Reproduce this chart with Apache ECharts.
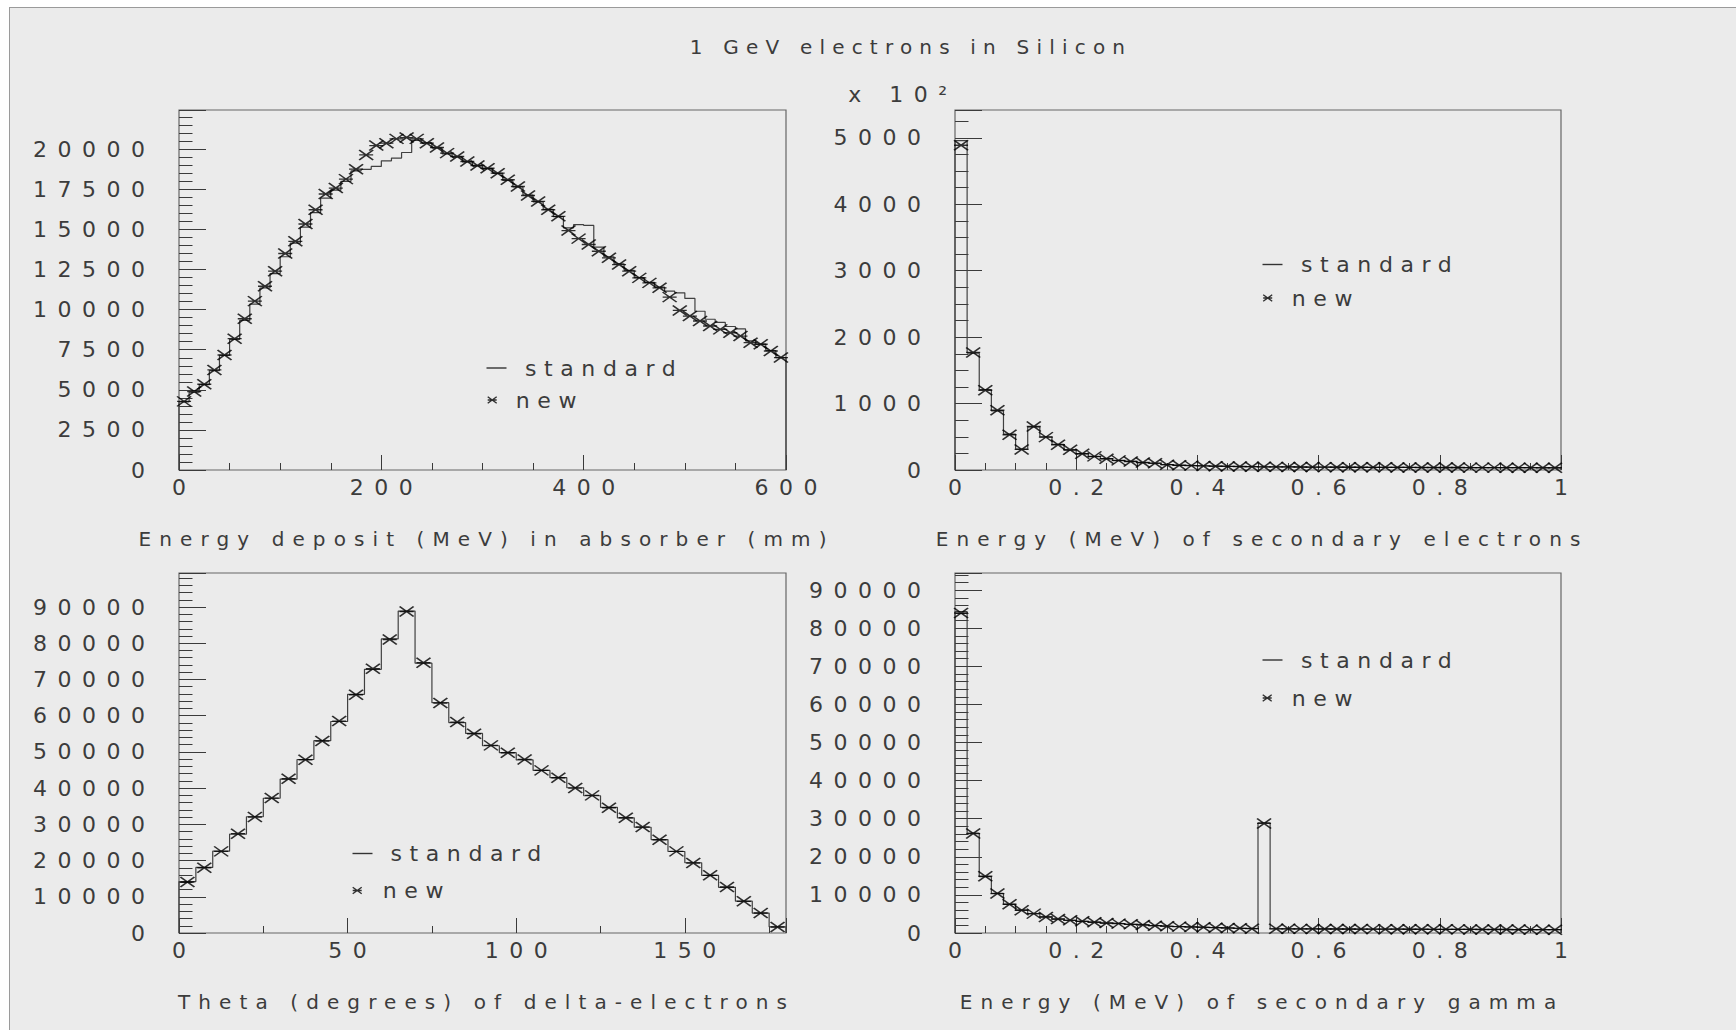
<!DOCTYPE html>
<html>
<head>
<meta charset="utf-8">
<title>1 GeV electrons in Silicon</title>
<script src="https://cdn.jsdelivr.net/npm/echarts@6.0.0/dist/echarts.min.js"></script>
<style>
html, body { margin: 0; padding: 0; background: #ffffff; }
#bg { position: absolute; left: 9px; top: 7px; width: 1727px; height: 1023px; background: #ebebeb;
      border-left: 1px solid #9a9a9a; border-top: 1px solid #9a9a9a; }
#chart { position: absolute; left: 0; top: 0; width: 1736px; height: 1030px; }
#chart text[style*="lsTick"]  { letter-spacing: 10.5px; }
#chart text[style*="lsLeg"]   { letter-spacing: 7.6px; }
#chart text[style*="lsName"]  { letter-spacing: 8.1px; }
#chart text[style*="lsTitle"] { letter-spacing: 7.2px; }
</style>
</head>
<body>
<div id="bg"></div>
<div id="chart"></div>
<script>
// ---------------- data ----------------
const mainTitle = '1 GeV electrons in Silicon';
const seriesNames = ['standard', 'new'];

// Top-left: energy deposit vs depth (bins of 10 mm, 0..600)
const tlBin = [0, 10];
const tlXTicks = [0, 200, 400, 600];
const tlYTicks = [0, 2500, 5000, 7500, 10000, 12500, 15000, 17500, 20000];
const tlXMax = 600, tlYMax = 22450;
const tlName = 'Energy deposit (MeV) in absorber (mm)';
const tlStandard = [4250, 4850, 5320, 6200, 7150, 8150, 9330, 10350, 11350, 12250,
  13300, 14150, 15150, 16050, 16950, 17450, 18000, 18650, 18750, 18930,
  19280, 19450, 19800, 20550, 20400, 20080, 19720, 19520, 19220, 18960,
  18800, 18500, 18060, 17650, 17150, 16720, 16250, 15800, 15100, 15300,
  15250, 13900, 13300, 12850, 12450, 12000, 11700, 11400, 11150, 11050,
  10700, 9900, 9400, 9200, 8950, 8800, 8050, 7850, 7450, 7000];
const tlNew = [4280, 4890, 5350, 6240, 7170, 8190, 9430, 10530, 11460, 12400,
  13500, 14260, 15340, 16230, 17210, 17580, 18140, 18760, 19650, 20230,
  20380, 20650, 20730, 20650, 20380, 20110, 19760, 19550, 19240, 18990,
  18820, 18510, 18100, 17680, 17120, 16750, 16230, 15820, 14930, 14430,
  14060, 13640, 13230, 12810, 12400, 11980, 11670, 11360, 10780, 9950,
  9600, 9290, 8980, 8770, 8560, 8350, 7940, 7840, 7420, 7010];

// Top-right: secondary electrons energy (bins of 0.02 MeV), values in units of 10^2
const trBin = [0, 0.02];
const trXTicks = [0, 0.2, 0.4, 0.6, 0.8, 1];
const trYTicks = [0, 1000, 2000, 3000, 4000, 5000];
const trXMax = 1, trYMax = 5420;
const trName = 'Energy (MeV) of secondary electrons';
const trScale = 'x 10\u00B2';
const trStandard = [4960, 1760, 1210, 890, 540, 315, 650, 500, 385, 300,
  248, 200, 172, 142, 130, 112, 100, 82, 70, 67,
  60, 58, 53, 52, 49, 48, 46, 46, 44, 44,
  43, 42, 41, 41, 40, 39, 39, 38, 38, 37,
  37, 37, 36, 36, 35, 35, 35, 34, 34, 33];
const trNew = [4890, 1770, 1200, 900, 530, 310, 655, 495, 380, 305,
  245, 205, 170, 145, 128, 113, 103, 80, 72, 66,
  61, 57, 54, 52, 50, 48, 47, 46, 45, 44,
  43, 42, 42, 41, 40, 40, 39, 39, 38, 38,
  37, 37, 36, 36, 36, 35, 35, 35, 34, 34];

// Bottom-left: theta of delta electrons (bins of 5 degrees)
const blBin = [0, 5];
const blXTicks = [0, 50, 100, 150];
const blYTicks = [0, 10000, 20000, 30000, 40000, 50000, 60000, 70000, 80000, 90000];
const blXMax = 180, blYMax = 99400;
const blName = 'Theta (degrees) of delta-electrons';
const blStandard = [14200, 18100, 22600, 27300, 32100, 37200, 42500, 47900, 53100, 58400,
  65900, 72800, 81200, 88900, 74500, 63600, 58100, 55100, 51700, 49800,
  47800, 44900, 42900, 40100, 37900, 34700, 31800, 29200, 25800, 22500,
  19400, 15900, 12600, 8800, 5500, 1700];
const blNew = [14080, 18030, 22540, 27420, 32020, 37260, 42600, 47840, 52990, 58510,
  65780, 72960, 81050, 88780, 74610, 63480, 58240, 55020, 51800, 49770,
  47930, 44900, 42870, 40020, 38000, 34590, 31830, 29260, 25760, 22540,
  19320, 15920, 12700, 8740, 5520, 1660];

// Bottom-right: secondary gamma energy (bins of 0.02 MeV)
const brBin = [0, 0.02];
const brXTicks = [0, 0.2, 0.4, 0.6, 0.8, 1];
const brYTicks = [0, 10000, 20000, 30000, 40000, 50000, 60000, 70000, 80000, 90000];
const brXMax = 1, brYMax = 94500;
const brName = 'Energy (MeV) of secondary gamma';
const brStandard = [84400, 26200, 14800, 10400, 7500, 6000, 5050, 4250, 3650, 3350,
  3050, 2830, 2610, 2480, 2260, 2120, 1910, 1770, 1650, 1590,
  1480, 1410, 1310, 1240, 1130, 28900, 1110, 1080, 1090, 1060,
  1070, 1040, 1050, 1020, 1030, 1000, 1010, 980, 990, 960,
  970, 940, 950, 920, 930, 900, 910, 880, 890, 860];
const brNew = [84000, 26100, 14900, 10350, 7540, 5960, 5090, 4210, 3680, 3330,
  3070, 2810, 2630, 2460, 2280, 2110, 1930, 1750, 1670, 1580,
  1490, 1400, 1320, 1230, 1140, 28770, 1100, 1090, 1080, 1070,
  1060, 1050, 1040, 1030, 1020, 1010, 1000, 990, 980, 970,
  960, 950, 940, 930, 920, 910, 900, 890, 880, 870];

// ---------------- styling ----------------
const TICKF = 'DejaVu Sans, lsTick';
const LEGF = 'DejaVu Sans, lsLeg';
const NAMEF = 'DejaVu Sans, lsName';
const TITF = 'DejaVu Sans, lsTitle';
const TXT = '#3c3c3c';
const FW = 'normal';
const TICK_SP = 10.5, NAME_SP = 8.1;
const STAR = 'path://M0,0L14,10M0,10L14,0M0,5L14,5';

function stepData(bin, vals) {
  const x0 = bin[0], w = bin[1];
  const d = [[x0, 0]];
  vals.forEach((v, i) => d.push([x0 + i * w, v]));
  d.push([x0 + vals.length * w, vals[vals.length - 1]]);
  d.push([x0 + vals.length * w, 0]);
  return d;
}
function pointData(bin, vals) {
  return vals.map((v, i) => [bin[0] + (i + 0.5) * bin[1], v]);
}
function fmtNum(v) {
  return String(Math.round(v * 1000) / 1000);
}

const panels = [
  { grid: { left: 179, top: 110, width: 607, height: 360 }, bin: tlBin, std: tlStandard, nw: tlNew,
    xTicks: tlXTicks, xMax: tlXMax, xMinor: 4, yTicks: tlYTicks, yMax: tlYMax, yMinor: 5, name: tlName,
    leg: { sx: 486.5, sy: 357, nx: 487, ny: 389, sp: 13.5, np: 14 } },
  { grid: { left: 955, top: 110, width: 606, height: 360 }, bin: trBin, std: trStandard, nw: trNew,
    xTicks: trXTicks, xMax: trXMax, xMinor: 4, yTicks: trYTicks, yMax: trYMax, yMinor: 4, name: trName,
    leg: { sx: 1262.5, sy: 253.5, nx: 1262.5, ny: 287, sp: 13.5, np: 14.5 } },
  { grid: { left: 179, top: 573, width: 607, height: 360 }, bin: blBin, std: blStandard, nw: blNew,
    xTicks: blXTicks, xMax: blXMax, xMinor: 2, yTicks: blYTicks, yMax: blYMax, yMinor: 5, name: blName,
    leg: { sx: 352.5, sy: 842.5, nx: 352, ny: 879.5, sp: 13, np: 16 } },
  { grid: { left: 955, top: 573, width: 606, height: 360 }, bin: brBin, std: brStandard, nw: brNew,
    xTicks: brXTicks, xMax: brXMax, xMinor: 4, yTicks: brYTicks, yMax: brYMax, yMinor: 5, name: brName,
    leg: { sx: 1262.5, sy: 649, nx: 1262, ny: 687, sp: 13.5, np: 15 } }
];

const grids = [], xAxes = [], yAxes = [], series = [], legends = [];
panels.forEach((p, gi) => {
  grids.push(Object.assign({ show: true, borderColor: '#666', borderWidth: 1.2, backgroundColor: 'transparent' }, p.grid));
  const xLast = p.xTicks[p.xTicks.length - 1];
  const yLast = p.yTicks[p.yTicks.length - 1];
  xAxes.push({
    type: 'value', gridIndex: gi, min: p.xTicks[0], max: p.xMax, interval: p.xTicks[1] - p.xTicks[0],
    name: p.name, nameLocation: 'middle', nameGap: 59,
    nameTextStyle: { fontSize: 20, fontFamily: NAMEF, fontWeight: FW, color: TXT, padding: [0, 0, 0, NAME_SP] },
    axisLine: { show: false },
    axisTick: { show: true, inside: true, length: 15, lineStyle: { color: '#3a3a3a', width: 1 } },
    minorTick: { show: true, splitNumber: p.xMinor, length: 7, lineStyle: { color: '#3a3a3a', width: 1 } },
    splitLine: { show: false },
    axisLabel: { margin: 6, fontSize: 22, fontFamily: TICKF, fontWeight: FW, color: TXT,
      formatter: fmtNum, showMaxLabel: Math.abs(xLast - p.xMax) < 1e-9, padding: [0, 0, 0, TICK_SP] }
  });
  yAxes.push({
    type: 'value', gridIndex: gi, min: p.yTicks[0], max: p.yMax, interval: p.yTicks[1] - p.yTicks[0],
    axisLine: { show: false },
    axisTick: { show: true, inside: true, length: 27, lineStyle: { color: '#3a3a3a', width: 1 } },
    minorTick: { show: true, splitNumber: p.yMinor, length: 13.5, lineStyle: { color: '#3a3a3a', width: 1 } },
    splitLine: { show: false },
    axisLabel: { margin: 34 - TICK_SP, fontSize: 22, fontFamily: TICKF, fontWeight: FW, color: TXT,
      formatter: fmtNum, showMaxLabel: yLast === p.yMax }
  });
  series.push({
    type: 'line', name: seriesNames[0], xAxisIndex: gi, yAxisIndex: gi, step: 'end', symbol: 'none',
    data: stepData(p.bin, p.std), lineStyle: { color: '#404040', width: 1.2 }, itemStyle: { color: '#404040' },
    z: 2, silent: true
  });
  series.push({
    type: 'scatter', name: seriesNames[1], xAxisIndex: gi, yAxisIndex: gi,
    data: pointData(p.bin, p.nw), symbol: STAR, symbolSize: [14, 10],
    itemStyle: { color: '#000', borderColor: '#000', borderWidth: 1.6 }, z: 3, silent: true
  });
  legends.push({
    data: [{ name: seriesNames[0], icon: 'rect' }], left: p.leg.sx, top: p.leg.sy, padding: 0, selectedMode: false,
    itemWidth: 20, itemHeight: 1.4, itemStyle: { color: '#333' },
    textStyle: { fontSize: 22, fontFamily: LEGF, fontWeight: FW, color: TXT, padding: [0, 0, 0, p.leg.sp] }
  });
  legends.push({
    data: [seriesNames[1]], left: p.leg.nx, top: p.leg.ny, padding: 0, selectedMode: false,
    itemWidth: 9, itemHeight: 8, itemStyle: { borderWidth: 1.4 },
    textStyle: { fontSize: 22, fontFamily: LEGF, fontWeight: FW, color: TXT, padding: [0, 0, 0, p.leg.np] }
  });
});

const option = {
  animation: false,
  backgroundColor: 'transparent',
  title: [
    { text: mainTitle, left: 911, top: 47, textAlign: 'center', textVerticalAlign: 'middle', padding: 0,
      textStyle: { fontSize: 20, fontFamily: TITF, fontWeight: FW, color: TXT } },
    { text: trScale, left: 947 + TICK_SP, top: 94, textAlign: 'right', textVerticalAlign: 'middle', padding: 0,
      textStyle: { fontSize: 22, fontFamily: TICKF, fontWeight: FW, color: TXT } }
  ],
  grid: grids,
  xAxis: xAxes,
  yAxis: yAxes,
  legend: legends,
  series: series
};

const chart = echarts.init(document.getElementById('chart'), null, { renderer: 'svg', width: 1736, height: 1030 });
chart.setOption(option);
</script>
</body>
</html>
